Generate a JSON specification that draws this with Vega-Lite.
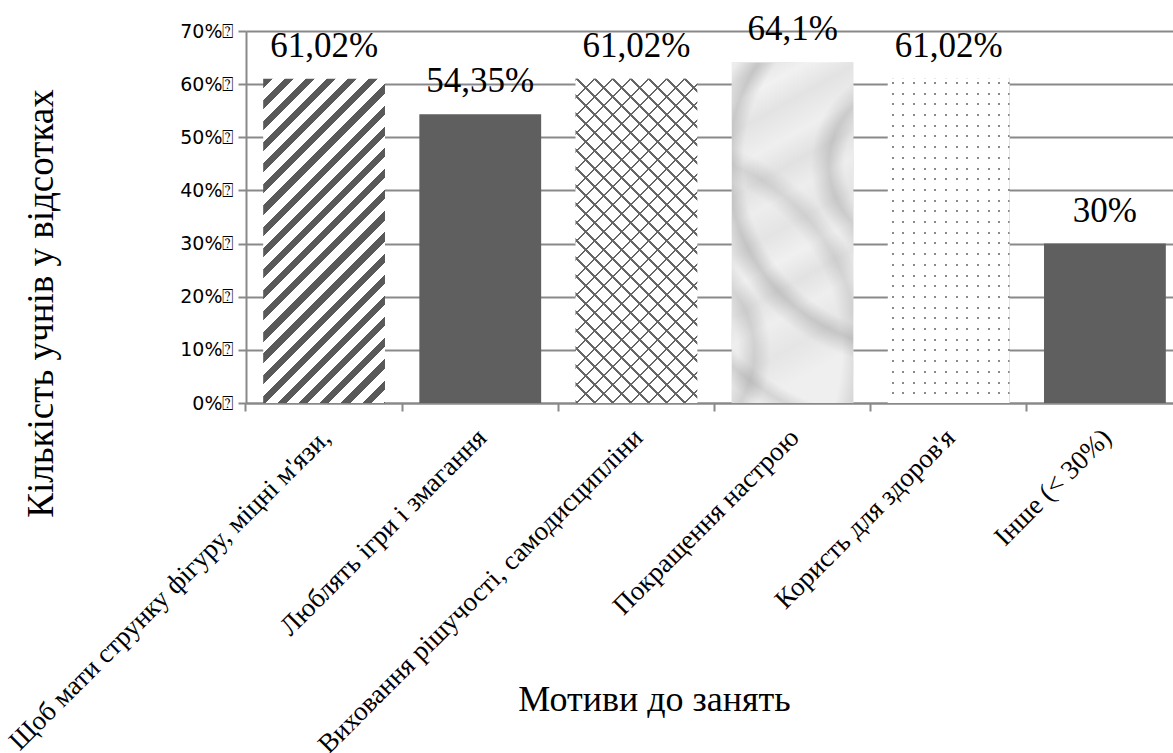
{
  "$schema": "https://vega.github.io/schema/vega-lite/v6.json",
  "autosize": "none",
  "width": 927,
  "height": 372,
  "padding": {"left": 246, "top": 31, "right": 0, "bottom": 350},
  "background": "white",
  "config": {"view": {"stroke": null}},
  "data": {
    "values": [
      {"id": 1, "motive": "Щоб мати струнку фігуру, міцні м'язи,", "value": 61.02, "label": "61,02%"},
      {"id": 2, "motive": "Люблять ігри і змагання", "value": 54.35, "label": "54,35%"},
      {"id": 3, "motive": "Виховання рішучості,  самодисципліни", "value": 61.02, "label": "61,02%"},
      {"id": 4, "motive": "Покращення настрою", "value": 64.1, "label": "64,1%"},
      {"id": 5, "motive": "Користь для здоров'я", "value": 61.02, "label": "61,02%"},
      {"id": 6, "motive": "Інше (< 30%)", "value": 30, "label": "30%"}
    ]
  },
  "encoding": {
    "x": {
      "field": "motive", "type": "nominal", "sort": null,
      "scale": {
        "domain": ["Щоб мати струнку фігуру, міцні м'язи,", "Люблять ігри і змагання", "Виховання рішучості,  самодисципліни", "Покращення настрою", "Користь для здоров'я", "Інше (< 30%)"],
        "range": [0, 937], "paddingInner": 0.22, "paddingOuter": 0.11
      },
      "axis": {
        "title": "Мотиви до занять",
        "titleFont": "Liberation Serif", "titleFontSize": 36, "titleFontWeight": "normal", "titleColor": "#000000",
        "titleX": 408, "titleY": 307, "titleAlign": "center", "titleBaseline": "alphabetic",
        "labelAngle": -45, "labelFont": "Liberation Serif", "labelFontSize": 27, "labelColor": "#000000",
        "labelPadding": 13, "labelOffset": -7, "labelLimit": 0, "labelOverlap": false,
        "bandPosition": -0.1413, "tickSize": 8, "tickColor": "#898989", "tickWidth": 2,
        "domainColor": "#898989", "domainWidth": 2, "grid": false
      }
    },
    "y": {
      "field": "value", "type": "quantitative",
      "scale": {"domain": [0, 70], "nice": false},
      "axis": {
        "title": "Кількість учнів у відсотках",
        "titleFont": "Liberation Serif", "titleFontSize": 37, "titleFontWeight": "normal", "titleColor": "#000000",
        "titleX": -194, "titleY": 272, "titleAngle": 270, "titleAlign": "center", "titleBaseline": "alphabetic",
        "values": [0, 10, 20, 30, 40, 50, 60, 70],
        "labelExpr": "datum.value + '%⍰'",
        "labelFont": "DejaVu Sans", "labelFontSize": 19, "labelColor": "#000000", "labelPadding": 5,
        "tickSize": 8, "tickColor": "#898989", "tickWidth": 2,
        "domainColor": "#898989", "domainWidth": 2,
        "grid": true, "gridColor": "#898989", "gridWidth": 2
      }
    }
  },
  "layer": [
    {
      "transform": [{"filter": "datum.id == 2 || datum.id == 6"}],
      "mark": {"type": "bar", "fill": "#5f5f5f"}
    },
    {
      "transform": [{"filter": "datum.id == 1"}],
      "mark": {"type": "bar", "fill": {"gradient": "linear", "x1": 0, "y1": 0, "x2": 0.4669, "y2": 1.2431, "stops": [
        {"offset": 0, "color": "#595959"}, {"offset": 0.02, "color": "#595959"}, {"offset": 0.02, "color": "#ffffff"}, {"offset": 0.046, "color": "#ffffff"},
        {"offset": 0.046, "color": "#595959"}, {"offset": 0.066, "color": "#595959"}, {"offset": 0.066, "color": "#ffffff"}, {"offset": 0.092, "color": "#ffffff"},
        {"offset": 0.092, "color": "#595959"}, {"offset": 0.112, "color": "#595959"}, {"offset": 0.112, "color": "#ffffff"}, {"offset": 0.138, "color": "#ffffff"},
        {"offset": 0.138, "color": "#595959"}, {"offset": 0.158, "color": "#595959"}, {"offset": 0.158, "color": "#ffffff"}, {"offset": 0.184, "color": "#ffffff"},
        {"offset": 0.184, "color": "#595959"}, {"offset": 0.204, "color": "#595959"}, {"offset": 0.204, "color": "#ffffff"}, {"offset": 0.23, "color": "#ffffff"},
        {"offset": 0.23, "color": "#595959"}, {"offset": 0.25, "color": "#595959"}, {"offset": 0.25, "color": "#ffffff"}, {"offset": 0.276, "color": "#ffffff"},
        {"offset": 0.276, "color": "#595959"}, {"offset": 0.296, "color": "#595959"}, {"offset": 0.296, "color": "#ffffff"}, {"offset": 0.322, "color": "#ffffff"},
        {"offset": 0.322, "color": "#595959"}, {"offset": 0.342, "color": "#595959"}, {"offset": 0.342, "color": "#ffffff"}, {"offset": 0.368, "color": "#ffffff"},
        {"offset": 0.368, "color": "#595959"}, {"offset": 0.388, "color": "#595959"}, {"offset": 0.388, "color": "#ffffff"}, {"offset": 0.414, "color": "#ffffff"},
        {"offset": 0.414, "color": "#595959"}, {"offset": 0.434, "color": "#595959"}, {"offset": 0.434, "color": "#ffffff"}, {"offset": 0.46, "color": "#ffffff"},
        {"offset": 0.46, "color": "#595959"}, {"offset": 0.48, "color": "#595959"}, {"offset": 0.48, "color": "#ffffff"}, {"offset": 0.506, "color": "#ffffff"},
        {"offset": 0.506, "color": "#595959"}, {"offset": 0.526, "color": "#595959"}, {"offset": 0.526, "color": "#ffffff"}, {"offset": 0.552, "color": "#ffffff"},
        {"offset": 0.552, "color": "#595959"}, {"offset": 0.572, "color": "#595959"}, {"offset": 0.572, "color": "#ffffff"}, {"offset": 0.598, "color": "#ffffff"},
        {"offset": 0.598, "color": "#595959"}, {"offset": 0.618, "color": "#595959"}, {"offset": 0.618, "color": "#ffffff"}, {"offset": 0.644, "color": "#ffffff"},
        {"offset": 0.644, "color": "#595959"}, {"offset": 0.664, "color": "#595959"}, {"offset": 0.664, "color": "#ffffff"}, {"offset": 0.69, "color": "#ffffff"},
        {"offset": 0.69, "color": "#595959"}, {"offset": 0.71, "color": "#595959"}, {"offset": 0.71, "color": "#ffffff"}, {"offset": 0.736, "color": "#ffffff"},
        {"offset": 0.736, "color": "#595959"}, {"offset": 0.756, "color": "#595959"}, {"offset": 0.756, "color": "#ffffff"}, {"offset": 0.782, "color": "#ffffff"},
        {"offset": 0.782, "color": "#595959"}, {"offset": 0.802, "color": "#595959"}, {"offset": 0.802, "color": "#ffffff"}, {"offset": 0.828, "color": "#ffffff"},
        {"offset": 0.828, "color": "#595959"}, {"offset": 0.848, "color": "#595959"}, {"offset": 0.848, "color": "#ffffff"}, {"offset": 0.874, "color": "#ffffff"},
        {"offset": 0.874, "color": "#595959"}, {"offset": 0.894, "color": "#595959"}, {"offset": 0.894, "color": "#ffffff"}, {"offset": 0.92, "color": "#ffffff"},
        {"offset": 0.92, "color": "#595959"}, {"offset": 0.94, "color": "#595959"}, {"offset": 0.94, "color": "#ffffff"}, {"offset": 0.966, "color": "#ffffff"},
        {"offset": 0.966, "color": "#595959"}, {"offset": 0.986, "color": "#595959"}, {"offset": 0.986, "color": "#ffffff"}, {"offset": 1, "color": "#ffffff"}
      ]}}
    },
    {
      "transform": [{"filter": "datum.id == 3"}],
      "mark": {"type": "bar", "fill": {"gradient": "linear", "x1": 0, "y1": 0, "x2": 0.4567, "y2": 1.216, "stops": [
        {"offset": 0, "color": "#666666"}, {"offset": 0.006, "color": "#666666"}, {"offset": 0.006, "color": "#ffffff"}, {"offset": 0.04, "color": "#ffffff"},
        {"offset": 0.04, "color": "#666666"}, {"offset": 0.046, "color": "#666666"}, {"offset": 0.046, "color": "#ffffff"}, {"offset": 0.08, "color": "#ffffff"},
        {"offset": 0.08, "color": "#666666"}, {"offset": 0.086, "color": "#666666"}, {"offset": 0.086, "color": "#ffffff"}, {"offset": 0.12, "color": "#ffffff"},
        {"offset": 0.12, "color": "#666666"}, {"offset": 0.126, "color": "#666666"}, {"offset": 0.126, "color": "#ffffff"}, {"offset": 0.16, "color": "#ffffff"},
        {"offset": 0.16, "color": "#666666"}, {"offset": 0.166, "color": "#666666"}, {"offset": 0.166, "color": "#ffffff"}, {"offset": 0.2, "color": "#ffffff"},
        {"offset": 0.2, "color": "#666666"}, {"offset": 0.206, "color": "#666666"}, {"offset": 0.206, "color": "#ffffff"}, {"offset": 0.24, "color": "#ffffff"},
        {"offset": 0.24, "color": "#666666"}, {"offset": 0.246, "color": "#666666"}, {"offset": 0.246, "color": "#ffffff"}, {"offset": 0.28, "color": "#ffffff"},
        {"offset": 0.28, "color": "#666666"}, {"offset": 0.286, "color": "#666666"}, {"offset": 0.286, "color": "#ffffff"}, {"offset": 0.32, "color": "#ffffff"},
        {"offset": 0.32, "color": "#666666"}, {"offset": 0.326, "color": "#666666"}, {"offset": 0.326, "color": "#ffffff"}, {"offset": 0.36, "color": "#ffffff"},
        {"offset": 0.36, "color": "#666666"}, {"offset": 0.366, "color": "#666666"}, {"offset": 0.366, "color": "#ffffff"}, {"offset": 0.4, "color": "#ffffff"},
        {"offset": 0.4, "color": "#666666"}, {"offset": 0.406, "color": "#666666"}, {"offset": 0.406, "color": "#ffffff"}, {"offset": 0.44, "color": "#ffffff"},
        {"offset": 0.44, "color": "#666666"}, {"offset": 0.446, "color": "#666666"}, {"offset": 0.446, "color": "#ffffff"}, {"offset": 0.48, "color": "#ffffff"},
        {"offset": 0.48, "color": "#666666"}, {"offset": 0.486, "color": "#666666"}, {"offset": 0.486, "color": "#ffffff"}, {"offset": 0.52, "color": "#ffffff"},
        {"offset": 0.52, "color": "#666666"}, {"offset": 0.526, "color": "#666666"}, {"offset": 0.526, "color": "#ffffff"}, {"offset": 0.56, "color": "#ffffff"},
        {"offset": 0.56, "color": "#666666"}, {"offset": 0.566, "color": "#666666"}, {"offset": 0.566, "color": "#ffffff"}, {"offset": 0.6, "color": "#ffffff"},
        {"offset": 0.6, "color": "#666666"}, {"offset": 0.606, "color": "#666666"}, {"offset": 0.606, "color": "#ffffff"}, {"offset": 0.64, "color": "#ffffff"},
        {"offset": 0.64, "color": "#666666"}, {"offset": 0.646, "color": "#666666"}, {"offset": 0.646, "color": "#ffffff"}, {"offset": 0.68, "color": "#ffffff"},
        {"offset": 0.68, "color": "#666666"}, {"offset": 0.686, "color": "#666666"}, {"offset": 0.686, "color": "#ffffff"}, {"offset": 0.72, "color": "#ffffff"},
        {"offset": 0.72, "color": "#666666"}, {"offset": 0.726, "color": "#666666"}, {"offset": 0.726, "color": "#ffffff"}, {"offset": 0.76, "color": "#ffffff"},
        {"offset": 0.76, "color": "#666666"}, {"offset": 0.766, "color": "#666666"}, {"offset": 0.766, "color": "#ffffff"}, {"offset": 0.8, "color": "#ffffff"},
        {"offset": 0.8, "color": "#666666"}, {"offset": 0.806, "color": "#666666"}, {"offset": 0.806, "color": "#ffffff"}, {"offset": 0.84, "color": "#ffffff"},
        {"offset": 0.84, "color": "#666666"}, {"offset": 0.846, "color": "#666666"}, {"offset": 0.846, "color": "#ffffff"}, {"offset": 0.88, "color": "#ffffff"},
        {"offset": 0.88, "color": "#666666"}, {"offset": 0.886, "color": "#666666"}, {"offset": 0.886, "color": "#ffffff"}, {"offset": 0.92, "color": "#ffffff"},
        {"offset": 0.92, "color": "#666666"}, {"offset": 0.926, "color": "#666666"}, {"offset": 0.926, "color": "#ffffff"}, {"offset": 0.96, "color": "#ffffff"},
        {"offset": 0.96, "color": "#666666"}, {"offset": 0.966, "color": "#666666"}, {"offset": 0.966, "color": "#ffffff"}, {"offset": 1, "color": "#ffffff"}
      ]}}
    },
    {
      "transform": [{"filter": "datum.id == 3"}],
      "mark": {"type": "bar", "fill": {"gradient": "linear", "x1": 0, "y1": 1, "x2": 0.4567, "y2": -0.216, "stops": [
        {"offset": 0, "color": "#666666"}, {"offset": 0.006, "color": "#666666"}, {"offset": 0.006, "color": "rgba(255,255,255,0)"}, {"offset": 0.04, "color": "rgba(255,255,255,0)"},
        {"offset": 0.04, "color": "#666666"}, {"offset": 0.046, "color": "#666666"}, {"offset": 0.046, "color": "rgba(255,255,255,0)"}, {"offset": 0.08, "color": "rgba(255,255,255,0)"},
        {"offset": 0.08, "color": "#666666"}, {"offset": 0.086, "color": "#666666"}, {"offset": 0.086, "color": "rgba(255,255,255,0)"}, {"offset": 0.12, "color": "rgba(255,255,255,0)"},
        {"offset": 0.12, "color": "#666666"}, {"offset": 0.126, "color": "#666666"}, {"offset": 0.126, "color": "rgba(255,255,255,0)"}, {"offset": 0.16, "color": "rgba(255,255,255,0)"},
        {"offset": 0.16, "color": "#666666"}, {"offset": 0.166, "color": "#666666"}, {"offset": 0.166, "color": "rgba(255,255,255,0)"}, {"offset": 0.2, "color": "rgba(255,255,255,0)"},
        {"offset": 0.2, "color": "#666666"}, {"offset": 0.206, "color": "#666666"}, {"offset": 0.206, "color": "rgba(255,255,255,0)"}, {"offset": 0.24, "color": "rgba(255,255,255,0)"},
        {"offset": 0.24, "color": "#666666"}, {"offset": 0.246, "color": "#666666"}, {"offset": 0.246, "color": "rgba(255,255,255,0)"}, {"offset": 0.28, "color": "rgba(255,255,255,0)"},
        {"offset": 0.28, "color": "#666666"}, {"offset": 0.286, "color": "#666666"}, {"offset": 0.286, "color": "rgba(255,255,255,0)"}, {"offset": 0.32, "color": "rgba(255,255,255,0)"},
        {"offset": 0.32, "color": "#666666"}, {"offset": 0.326, "color": "#666666"}, {"offset": 0.326, "color": "rgba(255,255,255,0)"}, {"offset": 0.36, "color": "rgba(255,255,255,0)"},
        {"offset": 0.36, "color": "#666666"}, {"offset": 0.366, "color": "#666666"}, {"offset": 0.366, "color": "rgba(255,255,255,0)"}, {"offset": 0.4, "color": "rgba(255,255,255,0)"},
        {"offset": 0.4, "color": "#666666"}, {"offset": 0.406, "color": "#666666"}, {"offset": 0.406, "color": "rgba(255,255,255,0)"}, {"offset": 0.44, "color": "rgba(255,255,255,0)"},
        {"offset": 0.44, "color": "#666666"}, {"offset": 0.446, "color": "#666666"}, {"offset": 0.446, "color": "rgba(255,255,255,0)"}, {"offset": 0.48, "color": "rgba(255,255,255,0)"},
        {"offset": 0.48, "color": "#666666"}, {"offset": 0.486, "color": "#666666"}, {"offset": 0.486, "color": "rgba(255,255,255,0)"}, {"offset": 0.52, "color": "rgba(255,255,255,0)"},
        {"offset": 0.52, "color": "#666666"}, {"offset": 0.526, "color": "#666666"}, {"offset": 0.526, "color": "rgba(255,255,255,0)"}, {"offset": 0.56, "color": "rgba(255,255,255,0)"},
        {"offset": 0.56, "color": "#666666"}, {"offset": 0.566, "color": "#666666"}, {"offset": 0.566, "color": "rgba(255,255,255,0)"}, {"offset": 0.6, "color": "rgba(255,255,255,0)"},
        {"offset": 0.6, "color": "#666666"}, {"offset": 0.606, "color": "#666666"}, {"offset": 0.606, "color": "rgba(255,255,255,0)"}, {"offset": 0.64, "color": "rgba(255,255,255,0)"},
        {"offset": 0.64, "color": "#666666"}, {"offset": 0.646, "color": "#666666"}, {"offset": 0.646, "color": "rgba(255,255,255,0)"}, {"offset": 0.68, "color": "rgba(255,255,255,0)"},
        {"offset": 0.68, "color": "#666666"}, {"offset": 0.686, "color": "#666666"}, {"offset": 0.686, "color": "rgba(255,255,255,0)"}, {"offset": 0.72, "color": "rgba(255,255,255,0)"},
        {"offset": 0.72, "color": "#666666"}, {"offset": 0.726, "color": "#666666"}, {"offset": 0.726, "color": "rgba(255,255,255,0)"}, {"offset": 0.76, "color": "rgba(255,255,255,0)"},
        {"offset": 0.76, "color": "#666666"}, {"offset": 0.766, "color": "#666666"}, {"offset": 0.766, "color": "rgba(255,255,255,0)"}, {"offset": 0.8, "color": "rgba(255,255,255,0)"},
        {"offset": 0.8, "color": "#666666"}, {"offset": 0.806, "color": "#666666"}, {"offset": 0.806, "color": "rgba(255,255,255,0)"}, {"offset": 0.84, "color": "rgba(255,255,255,0)"},
        {"offset": 0.84, "color": "#666666"}, {"offset": 0.846, "color": "#666666"}, {"offset": 0.846, "color": "rgba(255,255,255,0)"}, {"offset": 0.88, "color": "rgba(255,255,255,0)"},
        {"offset": 0.88, "color": "#666666"}, {"offset": 0.886, "color": "#666666"}, {"offset": 0.886, "color": "rgba(255,255,255,0)"}, {"offset": 0.92, "color": "rgba(255,255,255,0)"},
        {"offset": 0.92, "color": "#666666"}, {"offset": 0.926, "color": "#666666"}, {"offset": 0.926, "color": "rgba(255,255,255,0)"}, {"offset": 0.96, "color": "rgba(255,255,255,0)"},
        {"offset": 0.96, "color": "#666666"}, {"offset": 0.966, "color": "#666666"}, {"offset": 0.966, "color": "rgba(255,255,255,0)"}, {"offset": 1, "color": "rgba(255,255,255,0)"}
      ]}}
    },
    {
      "transform": [{"filter": "datum.id == 4"}],
      "mark": {"type": "bar", "fill": {"gradient": "linear", "x1": 0, "y1": 0, "x2": 0.2, "y2": 1, "stops": [
        {"offset": 0, "color": "#eeeeee"}, {"offset": 0.06, "color": "#e6e6e6"}, {"offset": 0.12, "color": "#f1f1f1"},
        {"offset": 0.2, "color": "#e3e3e3"}, {"offset": 0.3, "color": "#efefef"}, {"offset": 0.38, "color": "#e1e1e1"},
        {"offset": 0.46, "color": "#ededed"}, {"offset": 0.55, "color": "#e4e4e4"}, {"offset": 0.64, "color": "#f0f0f0"},
        {"offset": 0.72, "color": "#e2e2e2"}, {"offset": 0.8, "color": "#eeeeee"}, {"offset": 0.9, "color": "#e5e5e5"},
        {"offset": 1, "color": "#efefef"}
      ]}}
    },
    {
      "transform": [{"filter": "datum.id == 4"}],
      "mark": {"type": "bar", "fill": {"gradient": "radial", "x1": 0.85, "y1": 0.3, "r1": 0, "x2": 0.85, "y2": 0.3, "r2": 0.9, "stops": [
        {"offset": 0, "color": "rgba(120,120,120,0)"}, {"offset": 0.22, "color": "rgba(120,120,120,0)"},
        {"offset": 0.27, "color": "rgba(120,120,120,0.28)"}, {"offset": 0.33, "color": "rgba(120,120,120,0)"},
        {"offset": 0.55, "color": "rgba(120,120,120,0)"}, {"offset": 0.6, "color": "rgba(120,120,120,0.3)"},
        {"offset": 0.66, "color": "rgba(120,120,120,0)"}, {"offset": 0.84, "color": "rgba(120,120,120,0)"},
        {"offset": 0.88, "color": "rgba(120,120,120,0.22)"}, {"offset": 0.93, "color": "rgba(120,120,120,0)"},
        {"offset": 1, "color": "rgba(120,120,120,0)"}
      ]}}
    },
    {
      "transform": [{"filter": "datum.id == 4"}],
      "mark": {"type": "bar", "fill": {"gradient": "radial", "x1": 0.1, "y1": 0.85, "r1": 0, "x2": 0.1, "y2": 0.85, "r2": 0.8, "stops": [
        {"offset": 0, "color": "rgba(130,130,130,0)"}, {"offset": 0.3, "color": "rgba(130,130,130,0)"},
        {"offset": 0.36, "color": "rgba(130,130,130,0.25)"}, {"offset": 0.42, "color": "rgba(130,130,130,0)"},
        {"offset": 0.68, "color": "rgba(130,130,130,0)"}, {"offset": 0.74, "color": "rgba(130,130,130,0.22)"},
        {"offset": 0.8, "color": "rgba(130,130,130,0)"}, {"offset": 1, "color": "rgba(130,130,130,0)"}
      ]}}
    },
    {
      "transform": [{"filter": "datum.id == 5"}],
      "mark": {"type": "bar", "fill": {"gradient": "linear", "x1": 0, "y1": 0, "x2": 1, "y2": 0, "stops": [
        {"offset": 0, "color": "#ffffff"}, {"offset": 0.033, "color": "#ffffff"}, {"offset": 0.033, "color": "#8a8a8a"}, {"offset": 0.049, "color": "#8a8a8a"},
        {"offset": 0.049, "color": "#ffffff"}, {"offset": 0.12, "color": "#ffffff"}, {"offset": 0.12, "color": "#8a8a8a"}, {"offset": 0.136, "color": "#8a8a8a"},
        {"offset": 0.136, "color": "#ffffff"}, {"offset": 0.208, "color": "#ffffff"}, {"offset": 0.208, "color": "#8a8a8a"}, {"offset": 0.224, "color": "#8a8a8a"},
        {"offset": 0.224, "color": "#ffffff"}, {"offset": 0.295, "color": "#ffffff"}, {"offset": 0.295, "color": "#8a8a8a"}, {"offset": 0.311, "color": "#8a8a8a"},
        {"offset": 0.311, "color": "#ffffff"}, {"offset": 0.383, "color": "#ffffff"}, {"offset": 0.383, "color": "#8a8a8a"}, {"offset": 0.399, "color": "#8a8a8a"},
        {"offset": 0.399, "color": "#ffffff"}, {"offset": 0.47, "color": "#ffffff"}, {"offset": 0.47, "color": "#8a8a8a"}, {"offset": 0.486, "color": "#8a8a8a"},
        {"offset": 0.486, "color": "#ffffff"}, {"offset": 0.557, "color": "#ffffff"}, {"offset": 0.557, "color": "#8a8a8a"}, {"offset": 0.573, "color": "#8a8a8a"},
        {"offset": 0.573, "color": "#ffffff"}, {"offset": 0.645, "color": "#ffffff"}, {"offset": 0.645, "color": "#8a8a8a"}, {"offset": 0.661, "color": "#8a8a8a"},
        {"offset": 0.661, "color": "#ffffff"}, {"offset": 0.732, "color": "#ffffff"}, {"offset": 0.732, "color": "#8a8a8a"}, {"offset": 0.748, "color": "#8a8a8a"},
        {"offset": 0.748, "color": "#ffffff"}, {"offset": 0.82, "color": "#ffffff"}, {"offset": 0.82, "color": "#8a8a8a"}, {"offset": 0.836, "color": "#8a8a8a"},
        {"offset": 0.836, "color": "#ffffff"}, {"offset": 0.907, "color": "#ffffff"}, {"offset": 0.907, "color": "#8a8a8a"}, {"offset": 0.923, "color": "#8a8a8a"},
        {"offset": 0.923, "color": "#ffffff"}, {"offset": 0.984, "color": "#ffffff"}, {"offset": 0.984, "color": "#8a8a8a"}, {"offset": 1, "color": "#8a8a8a"}
      ]}}
    },
    {
      "transform": [{"filter": "datum.id == 5"}],
      "mark": {"type": "bar", "fill": {"gradient": "linear", "x1": 0, "y1": 0, "x2": 0, "y2": 1, "stops": [
        {"offset": 0, "color": "#ffffff"}, {"offset": 0.01, "color": "#ffffff"}, {"offset": 0.01, "color": "rgba(255,255,255,0)"}, {"offset": 0.016, "color": "rgba(255,255,255,0)"},
        {"offset": 0.016, "color": "#ffffff"}, {"offset": 0.043, "color": "#ffffff"}, {"offset": 0.043, "color": "rgba(255,255,255,0)"}, {"offset": 0.049, "color": "rgba(255,255,255,0)"},
        {"offset": 0.049, "color": "#ffffff"}, {"offset": 0.076, "color": "#ffffff"}, {"offset": 0.076, "color": "rgba(255,255,255,0)"}, {"offset": 0.082, "color": "rgba(255,255,255,0)"},
        {"offset": 0.082, "color": "#ffffff"}, {"offset": 0.109, "color": "#ffffff"}, {"offset": 0.109, "color": "rgba(255,255,255,0)"}, {"offset": 0.115, "color": "rgba(255,255,255,0)"},
        {"offset": 0.115, "color": "#ffffff"}, {"offset": 0.142, "color": "#ffffff"}, {"offset": 0.142, "color": "rgba(255,255,255,0)"}, {"offset": 0.148, "color": "rgba(255,255,255,0)"},
        {"offset": 0.148, "color": "#ffffff"}, {"offset": 0.175, "color": "#ffffff"}, {"offset": 0.175, "color": "rgba(255,255,255,0)"}, {"offset": 0.181, "color": "rgba(255,255,255,0)"},
        {"offset": 0.181, "color": "#ffffff"}, {"offset": 0.208, "color": "#ffffff"}, {"offset": 0.208, "color": "rgba(255,255,255,0)"}, {"offset": 0.214, "color": "rgba(255,255,255,0)"},
        {"offset": 0.214, "color": "#ffffff"}, {"offset": 0.241, "color": "#ffffff"}, {"offset": 0.241, "color": "rgba(255,255,255,0)"}, {"offset": 0.247, "color": "rgba(255,255,255,0)"},
        {"offset": 0.247, "color": "#ffffff"}, {"offset": 0.274, "color": "#ffffff"}, {"offset": 0.274, "color": "rgba(255,255,255,0)"}, {"offset": 0.28, "color": "rgba(255,255,255,0)"},
        {"offset": 0.28, "color": "#ffffff"}, {"offset": 0.307, "color": "#ffffff"}, {"offset": 0.307, "color": "rgba(255,255,255,0)"}, {"offset": 0.313, "color": "rgba(255,255,255,0)"},
        {"offset": 0.313, "color": "#ffffff"}, {"offset": 0.34, "color": "#ffffff"}, {"offset": 0.34, "color": "rgba(255,255,255,0)"}, {"offset": 0.346, "color": "rgba(255,255,255,0)"},
        {"offset": 0.346, "color": "#ffffff"}, {"offset": 0.373, "color": "#ffffff"}, {"offset": 0.373, "color": "rgba(255,255,255,0)"}, {"offset": 0.379, "color": "rgba(255,255,255,0)"},
        {"offset": 0.379, "color": "#ffffff"}, {"offset": 0.406, "color": "#ffffff"}, {"offset": 0.406, "color": "rgba(255,255,255,0)"}, {"offset": 0.412, "color": "rgba(255,255,255,0)"},
        {"offset": 0.412, "color": "#ffffff"}, {"offset": 0.439, "color": "#ffffff"}, {"offset": 0.439, "color": "rgba(255,255,255,0)"}, {"offset": 0.445, "color": "rgba(255,255,255,0)"},
        {"offset": 0.445, "color": "#ffffff"}, {"offset": 0.472, "color": "#ffffff"}, {"offset": 0.472, "color": "rgba(255,255,255,0)"}, {"offset": 0.478, "color": "rgba(255,255,255,0)"},
        {"offset": 0.478, "color": "#ffffff"}, {"offset": 0.505, "color": "#ffffff"}, {"offset": 0.505, "color": "rgba(255,255,255,0)"}, {"offset": 0.511, "color": "rgba(255,255,255,0)"},
        {"offset": 0.511, "color": "#ffffff"}, {"offset": 0.538, "color": "#ffffff"}, {"offset": 0.538, "color": "rgba(255,255,255,0)"}, {"offset": 0.544, "color": "rgba(255,255,255,0)"},
        {"offset": 0.544, "color": "#ffffff"}, {"offset": 0.571, "color": "#ffffff"}, {"offset": 0.571, "color": "rgba(255,255,255,0)"}, {"offset": 0.577, "color": "rgba(255,255,255,0)"},
        {"offset": 0.577, "color": "#ffffff"}, {"offset": 0.604, "color": "#ffffff"}, {"offset": 0.604, "color": "rgba(255,255,255,0)"}, {"offset": 0.61, "color": "rgba(255,255,255,0)"},
        {"offset": 0.61, "color": "#ffffff"}, {"offset": 0.637, "color": "#ffffff"}, {"offset": 0.637, "color": "rgba(255,255,255,0)"}, {"offset": 0.643, "color": "rgba(255,255,255,0)"},
        {"offset": 0.643, "color": "#ffffff"}, {"offset": 0.67, "color": "#ffffff"}, {"offset": 0.67, "color": "rgba(255,255,255,0)"}, {"offset": 0.676, "color": "rgba(255,255,255,0)"},
        {"offset": 0.676, "color": "#ffffff"}, {"offset": 0.703, "color": "#ffffff"}, {"offset": 0.703, "color": "rgba(255,255,255,0)"}, {"offset": 0.709, "color": "rgba(255,255,255,0)"},
        {"offset": 0.709, "color": "#ffffff"}, {"offset": 0.736, "color": "#ffffff"}, {"offset": 0.736, "color": "rgba(255,255,255,0)"}, {"offset": 0.742, "color": "rgba(255,255,255,0)"},
        {"offset": 0.742, "color": "#ffffff"}, {"offset": 0.769, "color": "#ffffff"}, {"offset": 0.769, "color": "rgba(255,255,255,0)"}, {"offset": 0.775, "color": "rgba(255,255,255,0)"},
        {"offset": 0.775, "color": "#ffffff"}, {"offset": 0.802, "color": "#ffffff"}, {"offset": 0.802, "color": "rgba(255,255,255,0)"}, {"offset": 0.808, "color": "rgba(255,255,255,0)"},
        {"offset": 0.808, "color": "#ffffff"}, {"offset": 0.835, "color": "#ffffff"}, {"offset": 0.835, "color": "rgba(255,255,255,0)"}, {"offset": 0.841, "color": "rgba(255,255,255,0)"},
        {"offset": 0.841, "color": "#ffffff"}, {"offset": 0.868, "color": "#ffffff"}, {"offset": 0.868, "color": "rgba(255,255,255,0)"}, {"offset": 0.874, "color": "rgba(255,255,255,0)"},
        {"offset": 0.874, "color": "#ffffff"}, {"offset": 0.901, "color": "#ffffff"}, {"offset": 0.901, "color": "rgba(255,255,255,0)"}, {"offset": 0.907, "color": "rgba(255,255,255,0)"},
        {"offset": 0.907, "color": "#ffffff"}, {"offset": 0.934, "color": "#ffffff"}, {"offset": 0.934, "color": "rgba(255,255,255,0)"}, {"offset": 0.94, "color": "rgba(255,255,255,0)"},
        {"offset": 0.94, "color": "#ffffff"}, {"offset": 0.967, "color": "#ffffff"}, {"offset": 0.967, "color": "rgba(255,255,255,0)"}, {"offset": 0.973, "color": "rgba(255,255,255,0)"},
        {"offset": 0.973, "color": "#ffffff"}, {"offset": 1, "color": "#ffffff"}
      ]}}
    },
    {
      "mark": {"type": "text", "font": "Liberation Serif", "fontSize": 35, "color": "#000000", "baseline": "alphabetic", "dy": -22},
      "encoding": {"text": {"field": "label"}}
    }
  ]
}
